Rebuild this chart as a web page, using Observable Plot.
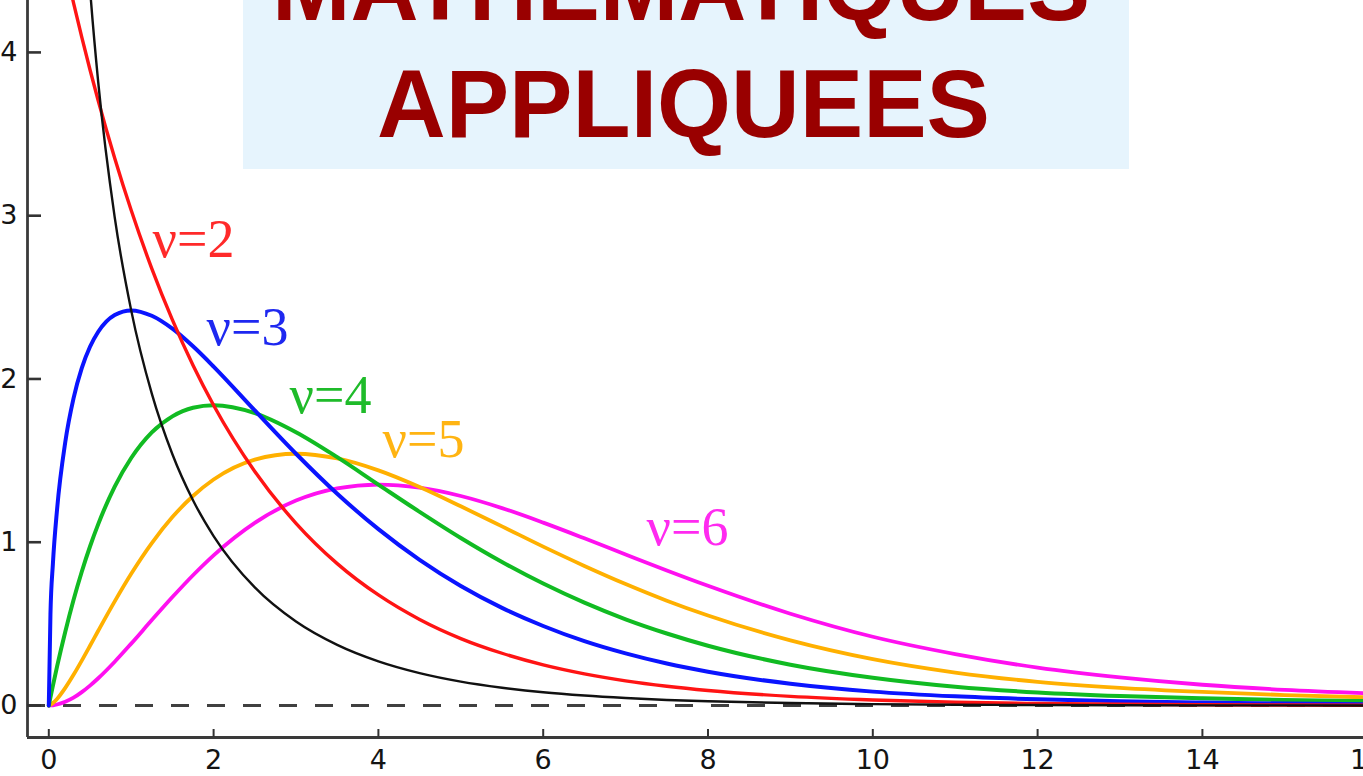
<!DOCTYPE html>
<html>
<head>
<meta charset="utf-8">
<script src="https://cdn.jsdelivr.net/npm/d3@7"></script>
<script src="https://cdn.jsdelivr.net/npm/@observablehq/plot@0.6"></script>
<style>
  html, body { margin: 0; padding: 0; background: #ffffff; }
  #wrap { position: relative; width: 1363px; height: 776px; overflow: hidden; }
  #overlay { position: absolute; left: 0; top: 0; pointer-events: none; }
</style>
</head>
<body>
<div id="wrap"></div>
<script>
// ---- data ----
const xs   = [0,0.02,0.05,0.1,0.2,0.3,0.4,0.5,0.6,0.8,1,1.25,1.5,1.75,2,2.5,3,3.5,4,4.5,5,5.5,6,6.5,7,7.5,8,9,10,11,12,13,14,15,16];
const nu1  = [null,27.93,17.40,12.00,8.072,6.269,5.164,4.394,3.816,2.990,2.420,1.910,1.539,1.257,1.038,0.723,0.514,0.371,0.270,0.198,0.146,0.109,0.081,0.061,0.046,0.034,0.026,0.015,0.0085,0.0049,0.0029,0.0017,0.001,0.0006,0.0003];
const nu2  = [5,4.950,4.877,4.756,4.524,4.304,4.094,3.894,3.704,3.352,3.033,2.676,2.362,2.084,1.839,1.433,1.116,0.869,0.677,0.527,0.410,0.320,0.249,0.194,0.151,0.118,0.092,0.056,0.034,0.020,0.012,0.0075,0.0046,0.0028,0.0017];
const nu3  = [0,0.559,0.870,1.200,1.614,1.881,2.066,2.197,2.289,2.392,2.420,2.387,2.308,2.200,2.076,1.807,1.542,1.297,1.080,0.892,0.732,0.598,0.487,0.394,0.319,0.257,0.207,0.133,0.085,0.056,0.038,0.026,0.018,0.012,0.008];
const nu4  = [0,0.050,0.122,0.238,0.452,0.646,0.819,0.974,1.111,1.341,1.516,1.673,1.771,1.824,1.839,1.791,1.674,1.521,1.353,1.186,1.026,0.879,0.747,0.630,0.528,0.441,0.366,0.250,0.170,0.115,0.080,0.058,0.044,0.034,0.027];
const nu5  = [0,0.004,0.015,0.040,0.108,0.188,0.275,0.366,0.458,0.638,0.807,0.995,1.154,1.283,1.384,1.506,1.542,1.513,1.440,1.338,1.220,1.097,0.973,0.855,0.744,0.642,0.551,0.399,0.284,0.202,0.145,0.108,0.083,0.064,0.050];
const nu6  = [0,0.0003,0.0015,0.006,0.023,0.048,0.082,0.122,0.167,0.268,0.379,0.523,0.664,0.798,0.920,1.119,1.255,1.330,1.353,1.334,1.283,1.209,1.120,1.024,0.925,0.827,0.733,0.562,0.421,0.315,0.232,0.172,0.127,0.096,0.075];

const seriesNames  = ["ν=1","ν=2","ν=3","ν=4","ν=5","ν=6"];
const labelText    = ["ν=2","ν=3","ν=4","ν=5","ν=6"];
const labelX       = [1.756, 2.411, 3.419, 4.547, 7.751];
const labelY       = [2.744, 2.205, 1.789, 1.519, 0.980];
const xTicks       = [0,2,4,6,8,10,12,14,16];
const yTicks       = [0,1,2,3,4];
const titleLines   = ["MATHEMATIQUES", "APPLIQUEES"];

// ---- styles ----
const seriesColors = ["#111111","#ff1414","#0a14ff","#11bb22","#ffb000","#ff10f0"];
const labelColors  = ["#ff2a2a","#1e28f0","#1fbb2a","#ffb412","#ff2af0"];
const seriesWidths = [2.4, 3.4, 4, 4, 3.8, 3.8];
const values = [nu1, nu2, nu3, nu4, nu5, nu6];

const lineData = seriesNames.map((name, s) =>
  xs.map((x, i) => ({series: name, x, y: values[s][i]})));
const labels = labelText.map((t, i) => ({text: t, x: labelX[i], y: labelY[i], color: labelColors[i]}));

const xDomain = [-0.2585, 15.955];
const yDomain = [-0.196, 4.318];

const drawOrder = [5, 4, 3, 2, 1, 0];

const chart = Plot.plot({
  width: 1363,
  height: 776,
  marginLeft: 27,
  marginRight: 0,
  marginTop: 0,
  marginBottom: 39,
  x: {domain: xDomain},
  y: {domain: yDomain},
  style: {background: "white", fontFamily: "DejaVu Sans", overflow: "hidden"},
  marks: [
    Plot.ruleY([0], {stroke: "#404040", strokeWidth: 3, strokeDasharray: "18,18"}),
    ...drawOrder.map(s => Plot.line(lineData[s], {
      x: "x", y: "y", stroke: seriesColors[s], strokeWidth: seriesWidths[s],
      curve: "monotone-x", clip: true
    })),
    Plot.text(labels, {
      x: "x", y: "y", text: "text", fill: "color",
      fontSize: 54, fontFamily: "Liberation Serif",
      textAnchor: "middle", lineAnchor: "bottom"
    }),
    // axis lines
    Plot.ruleX([xDomain[0]], {stroke: "#3a3a3a", strokeWidth: 2.8}),
    Plot.ruleY([yDomain[0]], {stroke: "#3a3a3a", strokeWidth: 2.8}),
    // tick marks (inward)
    Plot.axisX({ticks: xTicks, tickSize: 8, dy: -8, tickFormat: () => "", label: null, stroke: "#333", strokeWidth: 2}),
    Plot.axisY({ticks: yTicks, tickSize: 14, dx: 14, tickFormat: () => "", label: null, stroke: "#333", strokeWidth: 2.6}),
    // tick labels
    Plot.axisX({ticks: xTicks, tickSize: 0, tickPadding: 12, fontSize: 27, fill: "#141414", label: null, tickFormat: d => String(d)}),
    Plot.axisY({ticks: yTicks, tickSize: 0, tickPadding: 10, fontSize: 27, fill: "#141414", label: null, tickFormat: d => String(d)})
  ]
});

const wrap = document.getElementById("wrap");
wrap.appendChild(chart);

// ---- title box overlay ----
const ov = d3.select(wrap).append("svg")
  .attr("id", "overlay")
  .attr("width", 1363).attr("height", 776);
ov.append("rect")
  .attr("x", 243).attr("y", 0).attr("width", 886).attr("height", 169)
  .attr("fill", "#e6f4fd");
ov.append("text")
  .attr("x", 681).attr("y", 20)
  .attr("text-anchor", "middle")
  .attr("font-family", "Liberation Sans, Arial, sans-serif")
  .attr("font-weight", "bold")
  .attr("font-size", 96)
  .attr("fill", "#990000")
  .attr("textLength", 818).attr("lengthAdjust", "spacingAndGlyphs")
  .text(titleLines[0]);
ov.append("text")
  .attr("x", 683.5).attr("y", 137)
  .attr("text-anchor", "middle")
  .attr("font-family", "Liberation Sans, Arial, sans-serif")
  .attr("font-weight", "bold")
  .attr("font-size", 96)
  .attr("fill", "#990000")
  .attr("textLength", 613).attr("lengthAdjust", "spacingAndGlyphs")
  .text(titleLines[1]);
</script>
</body>
</html>
